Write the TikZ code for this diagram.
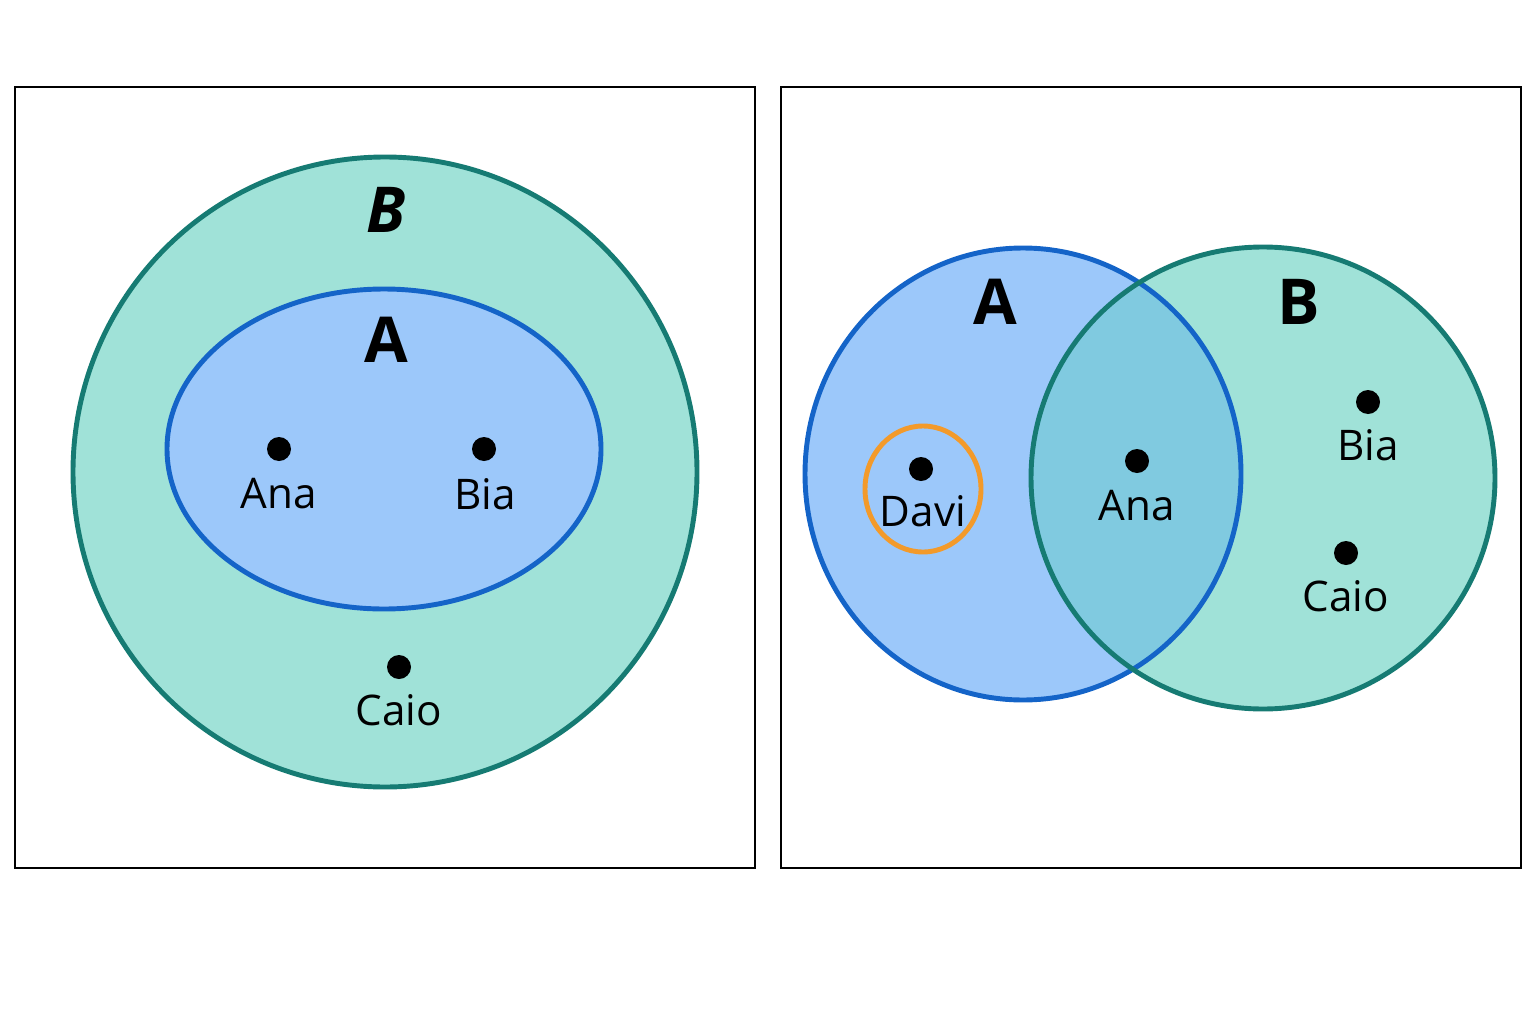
\documentclass[tikz,border=0pt]{standalone}
\usepackage{fontspec}
\setmainfont{Open Sans}
\usepackage{tikz}

\definecolor{tealfill}{HTML}{A0E2D8}
\definecolor{tealline}{HTML}{167B73}
\definecolor{bluefill}{HTML}{9CC8FA}
\definecolor{blueline}{HTML}{1464C8}
\definecolor{bothfill}{HTML}{80CAE0}
\definecolor{davi}{HTML}{F39A2A}

\begin{document}
\begin{tikzpicture}[x=0.01cm,y=-0.01cm,
  setname/.style={font=\fontsize{18}{20}\selectfont\bfseries},
  person/.style={font=\fontsize{12}{14}\selectfont}]
\useasboundingbox (0,0) rectangle (1536,1024);

% left panel: A inside B
\draw[line width=0.8pt] (15,87) rectangle (755,868);
\draw[fill=tealfill,draw=tealline,line width=1.4pt] (385,472) ellipse [x radius=312,y radius=315];
\draw[fill=bluefill,draw=blueline,line width=1.4pt] (384,449) ellipse [x radius=217,y radius=160];
\node[setname] (lB) at (386,210) {\itshape B};
\node[setname] (lA) at (386,340) {A};

\fill (279,449) circle [radius=12];
\node[person] (lana) at (279,494) {Ana};
\fill (484,449) circle [radius=12];
\node[person] (lbia) at (485,494) {Bia};
\fill (399,667) circle [radius=12];
\node[person] (lcaio) at (399,710) {Caio};

% right panel: A and B overlapping
\draw[line width=0.8pt] (781,87) rectangle (1521,868);
\fill[bluefill] (1023,474) ellipse [x radius=218,y radius=226];
\fill[tealfill] (1263,478) ellipse [x radius=232,y radius=231];
\begin{scope}
\clip (1023,474) ellipse [x radius=218,y radius=226];
\fill[bothfill] (1263,478) ellipse [x radius=232,y radius=231];
\end{scope}
\draw[blueline,line width=1.4pt] (1023,474) ellipse [x radius=218,y radius=226];
\draw[tealline,line width=1.4pt] (1263,478) ellipse [x radius=232,y radius=231];
\node[setname] (rA) at (995,302) {A};
\node[setname] (rB) at (1299,302) {B};

\draw[davi,line width=1.4pt] (923,489) ellipse [x radius=58,y radius=63];
\fill (921,469) circle [radius=12];
\node[person] (rdavi) at (923,511) {Davi};
\fill (1137,461) circle [radius=12];
\node[person] (rana) at (1137,506) {Ana};
\fill (1368,402) circle [radius=12];
\node[person] (rbia) at (1368,445) {Bia};
\fill (1346,553) circle [radius=12];
\node[person] (rcaio) at (1346,596) {Caio};
\end{tikzpicture}
\end{document}
